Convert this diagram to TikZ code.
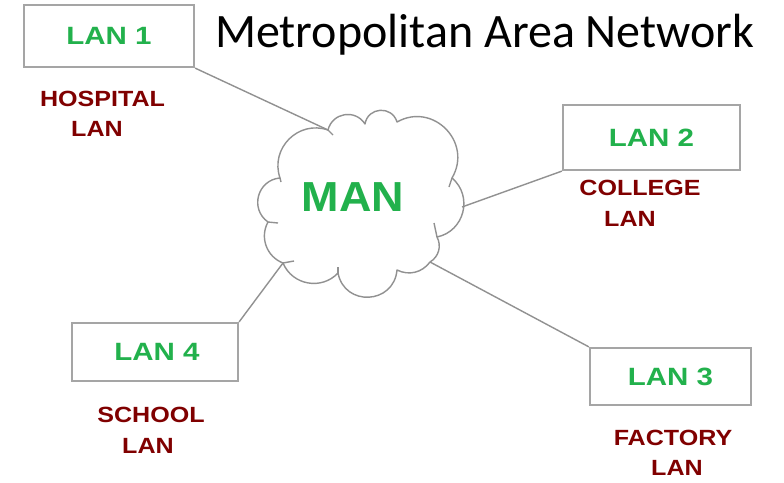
\documentclass[tikz,border=0pt]{standalone}
\usepackage{graphicx}
\usepackage{fontspec}
\setmainfont{Liberation Sans}
\newfontfamily\titlefont{Carlito}
\definecolor{langreen}{RGB}{34,177,76}
\definecolor{labred}{RGB}{128,0,0}
\definecolor{linegray}{RGB}{145,145,145}
\definecolor{boxgray}{RGB}{165,165,165}
\newcommand\lantxt[1]{\scalebox{1.18}[1]{\fontsize{25}{30}\selectfont\bfseries #1}}
\newcommand\labtxt[1]{\scalebox{1.14}[1]{\fontsize{22}{26}\selectfont\bfseries #1}}
\begin{document}
\begin{tikzpicture}[x=1pt,y=-1pt,
  lanbox/.style={draw=boxgray, line width=2.2pt, fill=white, text=langreen, inner sep=0pt},
  lab/.style={text=labred, inner sep=0pt},
  wire/.style={draw=linegray, line width=1.4pt},
  cloudline/.style={draw=linegray, line width=1.4pt, line join=round}]
\useasboundingbox (0,0) rectangle (784,482);
\fill[white] (0,0) rectangle (784,482);

% title
\node[anchor=base west, inner sep=0pt, font=\titlefont\fontsize{48}{56}\selectfont] (title) at (215,47) {Metropolitan Area Network};

% cloud cusps
\coordinate (k1) at (328,130);
\coordinate (k2) at (365,124);
\coordinate (k3) at (397,122);
\coordinate (k4) at (452,178);
\coordinate (k5) at (437,237);
\coordinate (k6) at (430,262);
\coordinate (k7) at (397,270);
\coordinate (k8) at (338,273);
\coordinate (k9) at (283,263);
\coordinate (k10) at (268,222);
\coordinate (k11) at (280,178);
\coordinate (kr) at (462,207);

\draw[cloudline] (k1) to[bend left=67,looseness=1.23] (k2)
  to[bend left=77,looseness=1.39] (k3)
  to[bend left=75,looseness=1.35] (k4)
  to[bend left=64,looseness=1.18] (k5)
  to[bend left=44,looseness=1] (k6)
  to[bend left=40,looseness=1] (k7)
  to[bend left=82,looseness=1.5] (k8)
  to[bend left=57,looseness=1.1] (k9)
  to[bend left=49,looseness=1.03] (k10)
  to[bend left=70,looseness=1.27] (k11)
  to[bend left=64,looseness=1.18] (k1);
% small inner ticks where the puffs overlap
\draw[cloudline] (k1) -- ++(5,5);
\draw[cloudline] (k4) -- ++(-3,9);
\draw[cloudline] (k5) -- ++(-3,-14);
\draw[cloudline] (k9) -- ++(11,-2);
\draw[cloudline] (k10) -- ++(10,1);
\draw[cloudline] (k11) -- ++(1,4);
\draw[cloudline] (k8) -- ++(0,-6);

\node[text=langreen, inner sep=0pt] (man) at (353,197) {\scalebox{1.07}[1]{\fontsize{42}{48}\selectfont\bfseries MAN}};

% LAN boxes
\node[lanbox, minimum width=170pt, minimum height=62pt] (lan1) at (109,36) {\lantxt{LAN 1}\hspace{12pt}};
\node[lanbox, minimum width=177pt, minimum height=65pt] (lan2) at (651.5,137.5) {\lantxt{LAN 2}};
\node[lanbox, minimum width=161pt, minimum height=57pt] (lan3) at (670.5,376.5) {\lantxt{LAN 3}\hspace{11pt}};
\node[lanbox, minimum width=166pt, minimum height=58pt] (lan4) at (155,352) {\hspace{4pt}\lantxt{LAN 4}};

% connectors
\draw[wire] (lan1.south east) -- (k1);
\draw[wire] (lan2.south west) -- (kr);
\draw[wire] (lan3.north west) -- (k6);
\draw[wire] (lan4.north east) -- (k9);

% labels
\node[lab] (hosp1) at (102.5,99) {\labtxt{HOSPITAL}};
\node[lab] (hosp2) at (97,129) {\labtxt{LAN}};
\node[lab] (coll1) at (640,188) {\labtxt{COLLEGE}};
\node[lab] (coll2) at (630,219) {\labtxt{LAN}};
\node[lab] (fact1) at (673,437.5) {\labtxt{FACTORY}};
\node[lab] (fact2) at (677,468) {\labtxt{LAN}};
\node[lab] (school1) at (151,415) {\labtxt{SCHOOL}};
\node[lab] (school2) at (148,446) {\labtxt{LAN}};
\end{tikzpicture}
\end{document}
